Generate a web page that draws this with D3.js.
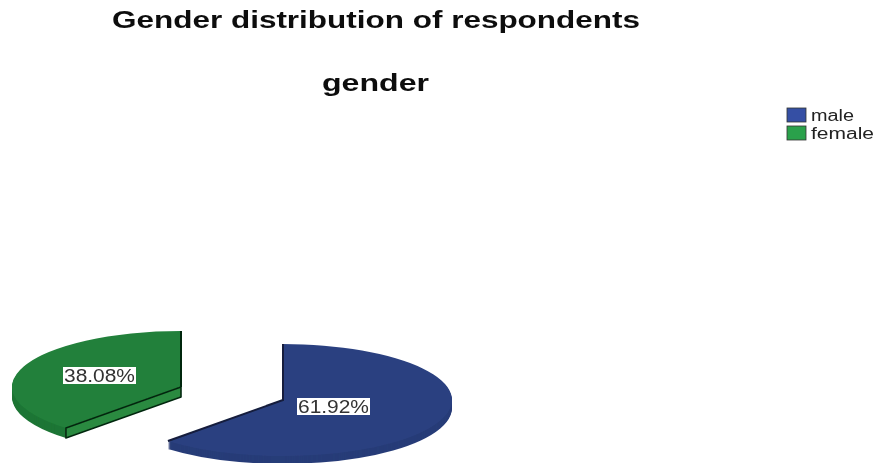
<!DOCTYPE html>
<html><head><meta charset="utf-8">
<script src="https://cdn.jsdelivr.net/npm/d3@7"></script>
<style>html,body{margin:0;padding:0;background:#fff}svg{display:block}text{font-family:"Liberation Sans",Arial,sans-serif}</style>
</head><body><svg id="c" width="877" height="463"></svg>
<script>
const categories = ["male","female"];
const shares = [61.92,38.08];
const labels = ["61.92%","38.08%"];
const topColors = ["#2b4180","#21803a"];
const wallColors = ["#283c78","#1e7535"];
const legendColors = ["#3450a4","#2ba14c"];
const titleText = "Gender distribution of respondents";
const subtitleText = "gender";

const svg = d3.select("#c");
const defs = svg.append("defs");
defs.append("filter").attr("id","soft").attr("x","-5%").attr("y","-5%").attr("width","110%").attr("height","110%")
  .append("feGaussianBlur").attr("stdDeviation",0.6);
const root = svg.append("g").attr("filter","url(#soft)");

const title = (txt,x,y,len,size)=>root.append("text").attr("x",x).attr("y",y).attr("font-size",size)
  .attr("font-weight","bold").attr("fill","#111").attr("textLength",len).attr("lengthAdjust","spacingAndGlyphs").text(txt);
title(titleText,112,28,528,23);
title(subtitleText,322,91,107,23);

// pie
const rx = 169, squash = 56/169;
const pie = d3.pie().value(d=>d).sort(null);
const arcs = pie(shares);
const arc = d3.arc().innerRadius(0).outerRadius(rx);
const apex = [[283,400],[181,387]];
const depth = [8,10];

arcs.forEach((a,i)=>{
  const g = root.append("g");
  const [cx,cy] = apex[i];
  d3.range(depth[i],0,-1).forEach(dy=>{
    g.append("path").attr("d",arc(a))
      .attr("transform",`translate(${cx},${cy+dy}) scale(1,${squash})`)
      .attr("fill",wallColors[i]);
  });
  g.append("path").attr("d",arc(a))
    .attr("transform",`translate(${cx},${cy}) scale(1,${squash})`)
    .attr("fill",topColors[i]);
  const pt = (ang,dy=0)=>[cx+rx*Math.sin(ang), cy-rx*squash*Math.cos(ang)+dy];
  const line = d3.line();
  if(i===0){
    g.append("path").attr("d",line([pt(a.startAngle),[cx,cy],pt(a.endAngle)]))
      .attr("fill","none").attr("stroke","#141e3c").attr("stroke-width",2);
  } else {
    g.append("path").attr("d",line([pt(a.startAngle),[cx,cy],[cx,cy+depth[i]],pt(a.startAngle,depth[i])])+"Z")
      .attr("fill","#2a8a40").attr("stroke","#062810").attr("stroke-width",1.6).attr("stroke-linejoin","round");
    g.append("path").attr("d",line([pt(a.endAngle),[cx,cy]]))
      .attr("fill","none").attr("stroke","#062810").attr("stroke-width",2);
  }
});

// value labels
const boxes = [[297,398],[63,367]];
labels.forEach((t,i)=>{
  const [x,y]=boxes[i];
  root.append("rect").attr("x",x).attr("y",y).attr("width",73).attr("height",17).attr("fill","#fff");
  root.append("text").attr("x",x+1).attr("y",y+15).attr("font-size",18).attr("fill","#333")
    .attr("textLength",71).attr("lengthAdjust","spacingAndGlyphs").text(t);
});

// legend
const ly = d3.scalePoint().domain(categories).range([108,126]);
const lenL = {male:43,female:63};
categories.forEach((c,i)=>{
  root.append("rect").attr("x",787).attr("y",ly(c)).attr("width",19).attr("height",14)
    .attr("fill",legendColors[i]).attr("stroke","#333").attr("stroke-width",.8);
  root.append("text").attr("x",811).attr("y",ly(c)+13).attr("font-size",16).attr("fill","#222")
    .attr("textLength",lenL[c]).attr("lengthAdjust","spacingAndGlyphs").text(c);
});
</script></body></html>
